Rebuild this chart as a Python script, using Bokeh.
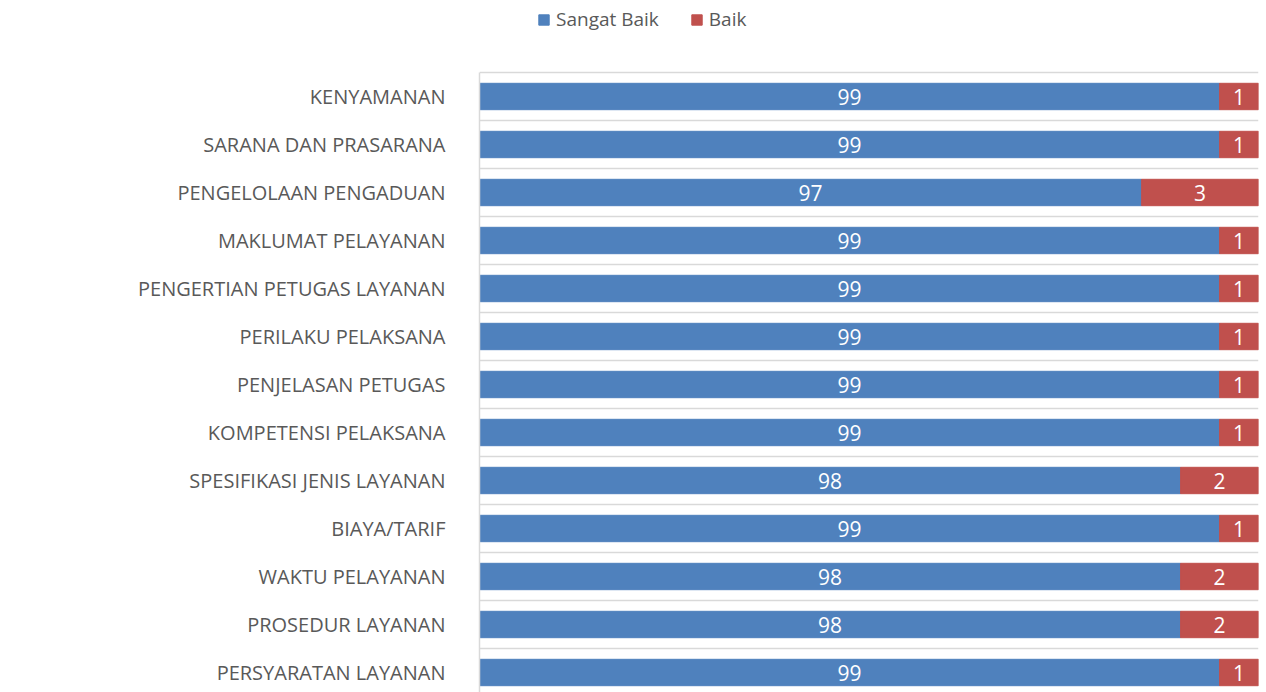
from bokeh.plotting import figure
from bokeh.models import ColumnDataSource, Range1d, FixedTicker, Legend, LegendItem, LabelSet
from bokeh.core.properties import value
from bokeh.embed import file_html
from bokeh.resources import INLINE

categories = ["PERSYARATAN LAYANAN", "PROSEDUR LAYANAN", "WAKTU PELAYANAN", "BIAYA/TARIF",
              "SPESIFIKASI JENIS LAYANAN", "KOMPETENSI PELAKSANA", "PENJELASAN PETUGAS",
              "PERILAKU PELAKSANA", "PENGERTIAN PETUGAS LAYANAN", "MAKLUMAT PELAYANAN",
              "PENGELOLAAN PENGADUAN", "SARANA DAN PRASARANA", "KENYAMANAN"]
sangat_baik = [99, 98, 98, 99, 98, 99, 99, 99, 99, 99, 97, 99, 99]
baik = [1, 2, 2, 1, 2, 1, 1, 1, 1, 1, 3, 1, 1]
series_names = ["Sangat Baik", "Baik"]
colors = ["#4f81bd", "#c0504d"]

x_start, x_end = 80, 100
n = len(categories)
ypos = list(range(n))

src = ColumnDataSource(dict(
    y=ypos,
    sb_end=list(sangat_baik),
    b_start=list(sangat_baik),
    b_end=[s + t for s, t in zip(sangat_baik, baik)],
    sb_lx=[(x_start + s) / 2 for s in sangat_baik],
    b_lx=[s + t / 2 for s, t in zip(sangat_baik, baik)],
    sb_txt=[str(s) for s in sangat_baik],
    b_txt=[str(t) for t in baik],
))

band_px = 48
y_lo = -0.5 + 4 / band_px
y_top_band = n - 0.5
y_hi = y_top_band + 72 / band_px

p = figure(width=1266, height=692, output_backend="svg", toolbar_location=None,
           x_range=Range1d(x_start, x_end),
           y_range=Range1d(y_lo, y_hi),
           min_border_left=479, min_border_right=8, min_border_top=0, min_border_bottom=0)
p.outline_line_color = None
p.background_fill_color = "white"
p.border_fill_color = "white"

r1 = p.hbar(y="y", left=0, right="sb_end", height=0.55, source=src, color=colors[0], line_color=colors[0])
r2 = p.hbar(y="y", left="b_start", right="b_end", height=0.55, source=src, color=colors[1], line_color=colors[1])

for xcol, tcol in (("sb_lx", "sb_txt"), ("b_lx", "b_txt")):
    p.add_layout(LabelSet(x=xcol, y="y", text=tcol, source=src, text_color="white",
                          text_font=value("Open Sans"), text_font_size="21px", text_align="center",
                          text_baseline="middle"))

p.xaxis.visible = False
p.xgrid.visible = False

p.ygrid.ticker = FixedTicker(ticks=[i + 0.5 for i in range(-1, n)])
p.ygrid.grid_line_color = "#d9d9d9"
p.ygrid.grid_line_width = 1.5

ax = p.yaxis[0]
ax.ticker = FixedTicker(ticks=ypos)
ax.bounds = (y_lo, y_top_band)
ax.major_label_overrides = {i: c for i, c in enumerate(categories)}
ax.major_tick_line_color = None
ax.minor_tick_line_color = None
ax.axis_line_color = "#d9d9d9"
ax.axis_line_width = 1.5
ax.major_label_text_color = "#595959"
ax.major_label_text_font = "Open Sans"
ax.major_label_text_font_size = "20px"
ax.major_label_standoff = 28

legend = Legend(items=[LegendItem(label=series_names[0], renderers=[r1]),
                       LegendItem(label=series_names[1], renderers=[r2])],
                orientation="horizontal", location=(58, 660),
                label_text_font="Open Sans", label_text_font_size="19px",
                label_text_color="#595959", glyph_width=13, glyph_height=13,
                label_standoff=6, spacing=31, padding=2, margin=0,
                border_line_color=None, background_fill_alpha=0)
p.add_layout(legend, "center")

open("out.html", "w").write(file_html(p, INLINE))
